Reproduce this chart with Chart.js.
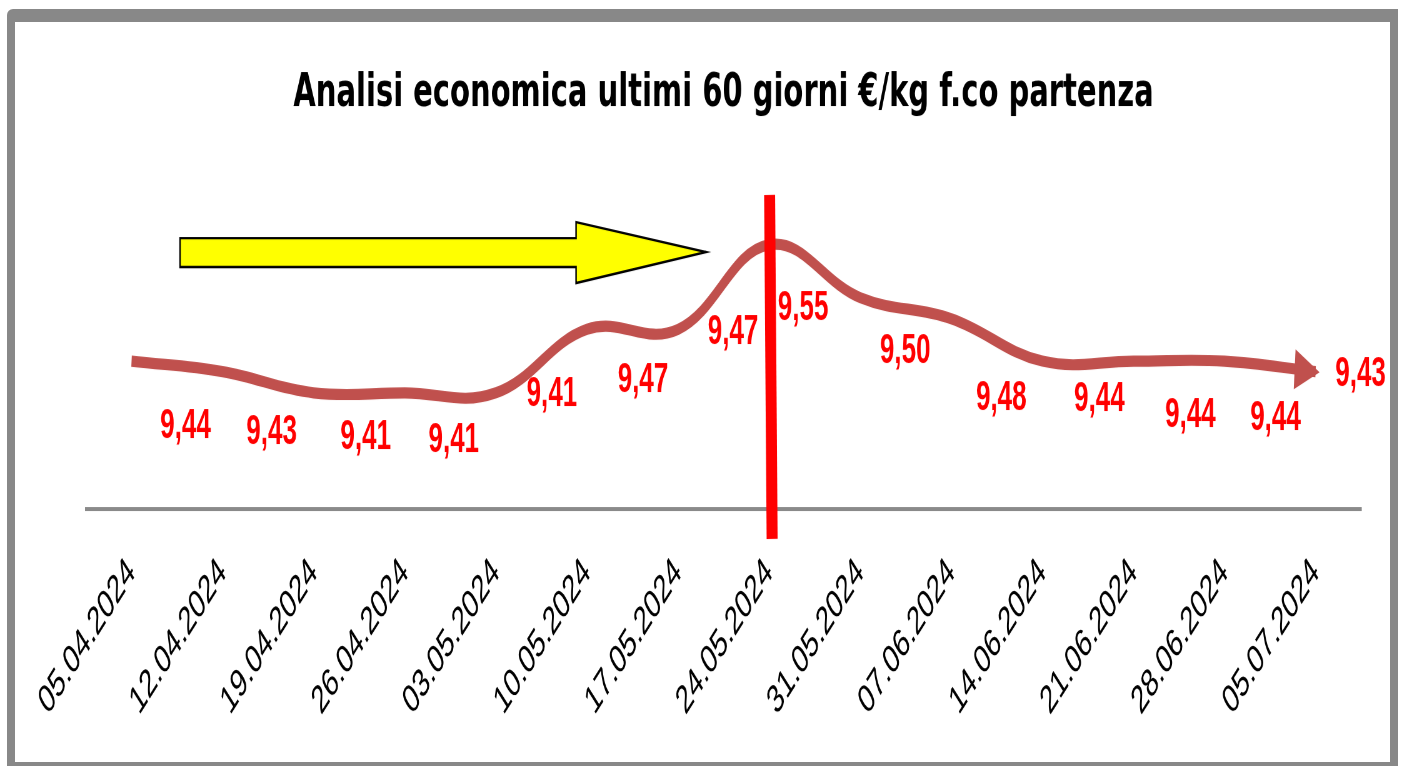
<!DOCTYPE html>
<html>
<head>
<meta charset="utf-8">
<title>Analisi economica</title>
<script src="https://cdn.jsdelivr.net/npm/chart.js@4.4.1/dist/chart.umd.min.js"></script>
<style>
    html, body { margin: 0; padding: 0; background: #fff; overflow: hidden; }
    /* the original picture is stretched vertically, so the chart is drawn flat and stretched */
    #stage { position: absolute; left: 0; top: 0; width: 1402px; height: 479px;
             transform: scaleY(1.5992); transform-origin: 0 0; }
    #frame { position: absolute; left: 7px; top: 9px; width: 1391px; height: 760px;
             box-sizing: border-box; border-style: solid; border-color: #888;
             border-width: 13px 8px 7px 8px; border-top-left-radius: 6px; pointer-events: none; }
</style>
</head>
<body>
<div id="stage"><canvas id="chart" width="1402" height="479"></canvas></div>
<div id="frame"></div>
<script>
    "use strict";

    var dates = ['05.04.2024', '12.04.2024', '19.04.2024', '26.04.2024', '03.05.2024',
                 '10.05.2024', '17.05.2024', '24.05.2024', '31.05.2024', '07.06.2024',
                 '14.06.2024', '21.06.2024', '28.06.2024', '05.07.2024'];
    var prices = [9.44, 9.43, 9.41, 9.41, 9.41, 9.47, 9.47, 9.55, 9.50, 9.48, 9.44, 9.44, 9.44, 9.43];
    var markerDate = '24.05.2024';
    var titleText = 'Analisi economica ultimi 60 giorni €/kg f.co partenza';

    // labels were dragged by hand in the original, nudges in drawing px
    var labelOffsets = [[54, 41], [49, 38], [52, 28], [49, 30], [56, 1], [56, 32], [55, 2],
                        [34, 40], [45, 34], [50, 50], [57, 24], [57, 34], [51, 36], [45, 2]];

    var LINE_COLOR = '#c0504d';
    var FONT = '"Liberation Sans", Arial, sans-serif';

    function fmt(v) {
        return v.toFixed(2).replace('.', ',');
    }

    var decorations = {
        id: 'decorations',
        afterDatasetsDraw: function (chart) {
            var ctx = chart.ctx;
            var area = chart.chartArea;
            var pts = chart.getDatasetMeta(0).data;

            // arrow head at the end of the curve
            var last = pts[pts.length - 1];
            var dx = last.x - last.cp1x, dy = last.y - last.cp1y;
            var len = Math.sqrt(dx * dx + dy * dy) || 1;
            dx /= len; dy /= len;
            var tipX = last.x + dx * 4, tipY = last.y + dy * 4;
            var bX = last.x - dx * 21, bY = last.y - dy * 21;
            ctx.save();
            ctx.fillStyle = LINE_COLOR;
            ctx.beginPath();
            ctx.moveTo(tipX, tipY);
            ctx.lineTo(bX - dy * 12.5, bY + dx * 12.5);
            ctx.lineTo(bX + dy * 12.5, bY - dx * 12.5);
            ctx.closePath();
            ctx.fill();

            // value labels
            ctx.font = 'bold 26px ' + FONT;
            ctx.fillStyle = '#ff0000';
            ctx.textAlign = 'center';
            ctx.textBaseline = 'middle';
            pts.forEach(function (p, i) {
                ctx.fillText(fmt(prices[i]), p.x + labelOffsets[i][0], p.y + labelOffsets[i][1]);
            });

            // red marker line
            var mx = chart.scales.x.getPixelForValue(dates.indexOf(markerDate));
            ctx.strokeStyle = '#ff0000';
            ctx.lineWidth = 11;
            ctx.beginPath();
            ctx.moveTo(mx + 0.5, area.top + 2);
            ctx.lineTo(mx + 3, area.bottom + 18.5);
            ctx.stroke();

            // yellow arrow
            ctx.fillStyle = '#ffff00';
            ctx.strokeStyle = '#000';
            ctx.lineWidth = 1.5;
            ctx.beginPath();
            ctx.moveTo(180, 148.8);
            ctx.lineTo(576, 148.8);
            ctx.lineTo(576, 138.8);
            ctx.lineTo(706, 157.5);
            ctx.lineTo(576, 176.9);
            ctx.lineTo(576, 166.9);
            ctx.lineTo(180, 166.9);
            ctx.closePath();
            ctx.fill();
            ctx.stroke();
            ctx.restore();
        }
    };

    new Chart(document.getElementById('chart'), {
        type: 'line',
        data: {
            labels: dates,
            datasets: [{
                data: prices,
                borderColor: LINE_COLOR,
                borderWidth: 7,
                tension: 0.4,
                pointRadius: 0,
                fill: false
            }]
        },
        options: {
            responsive: false,
            animation: false,
            devicePixelRatio: 1.6,
            layout: { padding: { top: 0, left: 86, right: 41, bottom: 1 } },
            plugins: {
                legend: { display: false },
                tooltip: { enabled: false },
                title: {
                    display: true,
                    text: titleText,
                    color: '#000',
                    font: { family: '"DejaVu Sans", sans-serif', size: 29, weight: 'bold' },
                    padding: { top: 41.5, bottom: 43.5 }
                }
            },
            scales: {
                x: {
                    offset: true,
                    grid: { display: false, drawTicks: false },
                    border: { display: true, color: '#8a8a8a', width: 2.5 },
                    ticks: {
                        color: '#000',
                        font: { family: FONT, size: 25 },
                        autoSkip: false,
                        minRotation: 45,
                        maxRotation: 45,
                        padding: 25
                    }
                },
                y: {
                    display: false,
                    min: 9.30,
                    max: 9.60
                }
            }
        },
        plugins: [decorations]
    });
</script>
</body>
</html>
